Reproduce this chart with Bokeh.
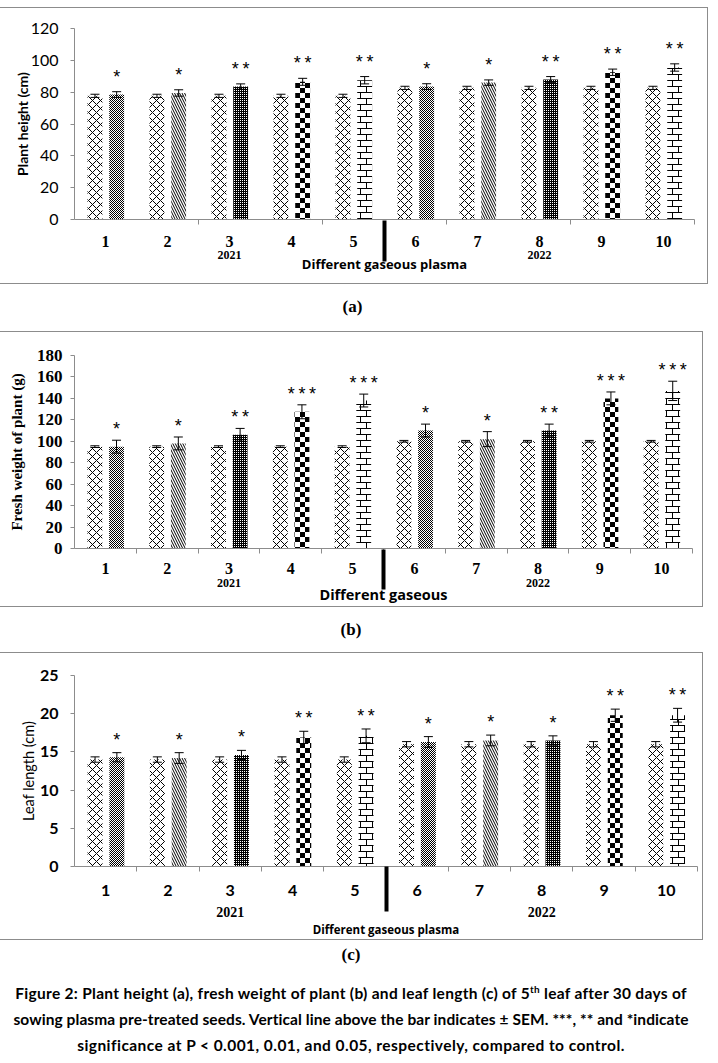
from bokeh.plotting import figure
from bokeh.models import (ColumnDataSource, Range1d, LinearAxis, FixedTicker,
                          Whisker, TeeHead, CanvasTexture, Div)
from bokeh.layouts import column
from bokeh.embed import file_html
from bokeh.resources import INLINE
from bokeh.core.properties import value

# ---------------- data ----------------
groups = [1, 2, 3, 4, 5, 6, 7, 8, 9, 10]
group_labels = ["1", "2", "3", "4", "5", "6", "7", "8", "9", "10"]
years = ["2021", "2022"]

# (a) plant height (cm)
height_ctrl = [77.7, 77.7, 77.7, 77.7, 77.7, 82.7, 82.7, 82.7, 82.7, 82.7]
height_ctrl_sem = [1.0, 1.0, 1.0, 1.0, 1.0, 1.0, 1.0, 1.0, 1.0, 1.0]
height_trt = [78.5, 79.5, 83.5, 86.5, 87.5, 83.5, 86.0, 88.0, 92.5, 95.5]
height_trt_sem = [1.8, 2.0, 1.7, 2.2, 2.3, 1.8, 1.7, 1.8, 2.0, 2.3]
height_sig = ["*", "*", "**", "**", "**", "*", "*", "**", "**", "**"]
height_yticks = [0, 20, 40, 60, 80, 100, 120]

# (b) fresh weight of plant (g)
weight_ctrl = [95, 95, 95, 95, 95, 100, 100, 100, 100, 100]
weight_ctrl_sem = [0.8, 0.8, 0.8, 0.8, 0.8, 0.8, 0.8, 0.8, 0.8, 0.8]
weight_trt = [95, 98, 106, 127.5, 138, 110, 102, 110, 140, 147]
weight_trt_sem = [6, 6, 6, 6.5, 6, 6, 7, 6, 6, 9]
weight_sig = ["*", "*", "**", "***", "***", "*", "*", "**", "***", "***"]
weight_yticks = [0, 20, 40, 60, 80, 100, 120, 140, 160, 180]

# (c) leaf length (cm)
leaf_ctrl = [14.0, 14.0, 14.0, 14.0, 14.0, 16.0, 16.0, 16.0, 16.0, 16.0]
leaf_ctrl_sem = [0.35, 0.35, 0.35, 0.35, 0.35, 0.35, 0.35, 0.35, 0.35, 0.35]
leaf_trt = [14.3, 14.2, 14.6, 16.9, 17.1, 16.3, 16.5, 16.5, 19.8, 19.8]
leaf_trt_sem = [0.6, 0.7, 0.6, 0.8, 0.9, 0.7, 0.7, 0.6, 0.8, 0.9]
leaf_sig = ["*", "*", "*", "**", "**", "*", "*", "*", "**", "**"]
leaf_yticks = [0, 5, 10, 15, 20, 25]

treatment_patterns = ["stipple", "\\", "dense", "checker", "brick",
                      "stipple", "\\", "dense", "checker", "brick"]
pattern_scales = {"stipple": 2, "\\": 5, "dense": 2, "checker": 10, "brick": 12}

# ---------------- styles ----------------
AX = "#8c8c8c"


def tex(size, body):
    return CanvasTexture(code=(
        "var c=ctx.canvas;c.width=%d;c.height=%d;var s=%d,h=s/2;"
        "ctx.fillStyle='#000';" % (size, size, size)) + body)


TEX = {
    "stipple": tex(2, "ctx.fillRect(0,0,1,1);ctx.fillRect(1,1,1,1);"),
    "dense": tex(2, "ctx.fillRect(1,0,1,1);ctx.fillRect(0,1,2,1);"),
    "checker": tex(10, "ctx.fillRect(0,0,h,h);ctx.fillRect(h,h,h,h);"),
    "brick": tex(12, "ctx.fillRect(0,0,s,1);ctx.fillRect(0,h,s,1);"
                     "ctx.fillRect(0,0,1,h);ctx.fillRect(h,h,1,h);"),
}

BAR_W = 0.24
CTRL_OFF = -0.17
TRT_OFF = 0.18


def panel(ctrl, ctrl_sem, trt, trt_sem, sig, yticks, ylabel, xlabel, c):
    p = figure(frame_width=c["fw"], frame_height=c["fh"],
               x_range=Range1d(groups[0] - 0.5, groups[-1] + 0.5),
               y_range=Range1d(0, yticks[-1]),
               x_axis_type=None, y_axis_type=None,
               toolbar_location=None, output_backend="svg",
               min_border_left=c["bl"], min_border_right=c["br"],
               min_border_top=c["bt"], min_border_bottom=c["bb"])
    p.outline_line_color = None
    p.styles = {"outline": "1px solid #8c8c8c"}

    cs = ColumnDataSource(dict(
        x=[g + CTRL_OFF for g in groups], top=ctrl,
        upper=[v + s for v, s in zip(ctrl, ctrl_sem)],
        lower=[v - s for v, s in zip(ctrl, ctrl_sem)]))
    ts = ColumnDataSource(dict(
        x=[g + TRT_OFF for g in groups], top=trt,
        upper=[v + s for v, s in zip(trt, trt_sem)],
        lower=[v - s for v, s in zip(trt, trt_sem)],
        sig=["\u2009".join(s) for s in sig], pat=treatment_patterns,
        hs=[pattern_scales[k] for k in treatment_patterns]))

    p.vbar(x="x", top="top", bottom=0, width=BAR_W, source=cs,
           fill_color="white", line_color=None,
           hatch_pattern=value("x"), hatch_scale=8, hatch_weight=1, hatch_color="black")
    p.vbar(x="x", top="top", bottom=0, width=BAR_W, source=ts,
           fill_color="white", line_color=None,
           hatch_pattern="pat", hatch_scale="hs", hatch_weight=1, hatch_color="black",
           hatch_extra=TEX)

    for src in (cs, ts):
        p.add_layout(Whisker(base="x", upper="upper", lower="lower", source=src,
                             level="annotation", line_color="black", line_width=1,
                             upper_head=TeeHead(size=9, line_color="black", line_width=1),
                             lower_head=TeeHead(size=9, line_color="black", line_width=1)))

    p.text(x="x", y="upper", text="sig", source=ts, text_font=value("Liberation Sans"),
           text_font_size="18px", text_align="center", text_baseline="middle",
           y_offset=c["staroff"], text_color="black")

    # y axis
    ya = LinearAxis(ticker=FixedTicker(ticks=yticks), axis_label=ylabel)
    ya.axis_line_color = AX
    ya.major_tick_line_color = AX
    ya.major_tick_out = 4
    ya.major_tick_in = 0
    ya.minor_tick_line_color = None
    ya.major_label_standoff = c["ystand"]
    ya.major_label_text_font = c["ytf"]
    ya.major_label_text_font_style = c["ytfs"]
    ya.major_label_text_font_size = c["ytsz"]
    ya.major_label_text_color = "black"
    ya.axis_label_text_font = c["ylf"]
    ya.axis_label_text_font_style = c["ylfs"]
    ya.axis_label_text_font_size = c["ylsz"]
    ya.axis_label_text_color = "black"
    ya.axis_label_standoff = c["ylstand"]
    p.add_layout(ya, "left")

    # x axis: group numbers, boundary ticks
    xa = LinearAxis(ticker=FixedTicker(ticks=groups, minor_ticks=c["bounds"]))
    xa.major_label_overrides = {float(g): lab for g, lab in zip(groups, group_labels)}
    xa.axis_line_color = AX
    xa.major_tick_line_color = None
    xa.major_tick_out = 0
    xa.major_tick_in = 0
    xa.minor_tick_line_color = AX
    xa.minor_tick_out = 5
    xa.minor_tick_in = 0
    xa.major_label_standoff = c["nstand"]
    xa.major_label_text_font = c["nf"]
    xa.major_label_text_font_style = "bold"
    xa.major_label_text_font_size = c["nsz"]
    xa.major_label_text_color = "black"
    p.add_layout(xa, "below")

    # second axis: years, separator, title
    y1 = sum(groups[:5]) / 5.0
    y2 = sum(groups[5:]) / 5.0
    sep = (groups[4] + groups[5]) / 2.0
    xb = LinearAxis(ticker=FixedTicker(ticks=[y1, y2], minor_ticks=[sep]), axis_label=xlabel)
    xb.major_label_overrides = {y1: years[0], y2: years[1]}
    xb.axis_line_color = None
    xb.major_tick_line_color = None
    xb.major_tick_out = 0
    xb.major_tick_in = 0
    xb.minor_tick_line_color = "black"
    xb.minor_tick_line_width = 4
    xb.minor_tick_in = c["sepin"]
    xb.minor_tick_out = c["sepout"]
    xb.major_label_standoff = c["ystand2"]
    xb.major_label_text_font = "Liberation Serif"
    xb.major_label_text_font_style = "bold"
    xb.major_label_text_font_size = c["yrsz"]
    xb.major_label_text_color = "black"
    xb.axis_label_text_font = "Open Sans"
    xb.axis_label_text_font_style = "bold"
    xb.axis_label_text_font_size = c["xlsz"]
    xb.axis_label_text_color = "black"
    xb.axis_label_standoff = c["xlstand"]
    p.add_layout(xb, "below")
    return p


cfg_a = dict(fw=620, fh=191, bl=62, br=23, bt=20, bb=64,
             ystand=12, ytf="Lato", ytfs="normal", ytsz="16px",
             ylf="Lato", ylfs="bold", ylsz="14px", ylstand=-3,
             bounds=[2.5, 4.5, 6.5, 8.5, 10.5],
             nstand=11, nf="Liberation Serif", nsz="16px",
             sepin=29, sepout=12, ystand2=-11, yrsz="12px", xlsz="13px", xlstand=-7,
             staroff=-15)
cfg_b = dict(fw=618, fh=193, bl=74, br=10, bt=23, bb=58,
             ystand=8, ytf="Liberation Serif", ytfs="bold", ytsz="17px",
             ylf="Liberation Serif", ylfs="bold", ylsz="15px", ylstand=9,
             bounds=[1.5, 2.5, 3.5, 4.5, 5.5, 6.5, 7.5, 8.5, 9.5, 10.5],
             nstand=9, nf="Liberation Serif", nsz="16px",
             sepin=27, sepout=13, ystand2=-11, yrsz="12px", xlsz="14.5px", xlstand=-5,
             staroff=-11)
cfg_c = dict(fw=623, fh=191, bl=64, br=15, bt=22, bb=70,
             ystand=12, ytf="Lato", ytfs="bold", ytsz="16px",
             ylf="Lato", ylfs="normal", ylsz="14.5px", ylstand=0,
             bounds=[1.5, 2.5, 3.5, 4.5, 5.5, 6.5, 7.5, 8.5, 9.5, 10.5],
             nstand=13, nf="Lato", nsz="16px",
             sepin=32, sepout=13, ystand2=-5, yrsz="14px", xlsz="11.5px", xlstand=2,
             staroff=-13)

pa = panel(height_ctrl, height_ctrl_sem, height_trt, height_trt_sem, height_sig,
           height_yticks, "Plant height (cm)", "Different gaseous plasma", cfg_a)
pb = panel(weight_ctrl, weight_ctrl_sem, weight_trt, weight_trt_sem, weight_sig,
           weight_yticks, "Fresh weight of plant (g)", "Different gaseous", cfg_b)
pc = panel(leaf_ctrl, leaf_ctrl_sem, leaf_trt, leaf_trt_sem, leaf_sig,
           leaf_yticks, "Leaf length (cm)", "Different gaseous plasma", cfg_c)

lab_style = {"font-family": "Liberation Serif", "font-weight": "bold", "font-size": "17px",
             "text-align": "center", "line-height": "48px", "color": "black"}
da = Div(text="(a)", width=705, height=49, margin=(0, 0, 0, 0), styles=lab_style)
db = Div(text="(b)", width=702, height=47, margin=(0, 0, 0, 0), styles=lab_style)

caption = (
    "<div style=\"width:702px;font-family:'Liberation Serif';font-weight:bold;font-size:17px;line-height:20px;"
    "margin-top:6px;text-align:center;\">(c)</div>"
    "<div style=\"width:702px;font-family:Lato;font-weight:bold;font-size:15.5px;line-height:26px;"
    "margin-top:15px;text-align:center;white-space:nowrap;\">"
    "<span style=\"letter-spacing:0.3px;\">Figure 2: Plant height (a), fresh weight of plant (b) and leaf length (c) of 5"
    "<sup style=\"font-size:10px;line-height:0;\">th</sup> leaf after 30 days of</span><br>"
    "<span style=\"letter-spacing:0.08px;\">sowing plasma pre-treated seeds. Vertical line above the bar indicates &plusmn; SEM. ***, ** and *indicate</span><br>"
    "<span style=\"letter-spacing:0.45px;\">significance at P &lt; 0.001, 0.01, and 0.05, respectively, compared to control.</span></div>"
)
dc = Div(text=caption, width=702, height=119, margin=(0, 0, 0, 0), styles={"color": "black"})

layout = column(pa, da, pb, db, pc, dc, margin=(8, 0, 0, 0))
open("out.html", "w").write(file_html(layout, INLINE))
